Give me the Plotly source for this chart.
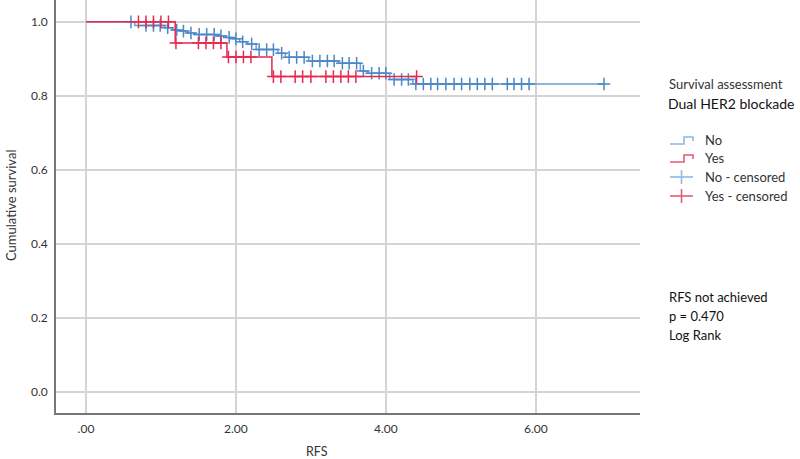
import numpy as np
import plotly.graph_objects as go

# Kaplan-Meier step data (time, survival after step)
no_step_t = [0.00, 0.65, 1.05, 1.15, 1.25, 1.35, 1.45, 1.75, 1.87, 1.96, 2.05, 2.15, 2.27,
             2.56, 2.66, 2.97, 3.37, 3.66, 3.76, 4.05, 4.36, 6.91]
no_step_s = [1.000, 0.990, 0.984, 0.978, 0.975, 0.970, 0.966, 0.962, 0.958, 0.954, 0.946, 0.940, 0.925,
             0.915, 0.904, 0.894, 0.888, 0.867, 0.861, 0.844, 0.832, 0.832]
no_cens_t = [0.60, 0.80, 0.90, 0.99, 1.09, 1.21, 1.30, 1.40, 1.51, 1.61, 1.71, 1.80, 1.91, 2.00,
             2.09, 2.21, 2.31, 2.41, 2.50, 2.61, 2.71, 2.81, 2.91, 3.02, 3.12, 3.22, 3.31, 3.42,
             3.51, 3.61, 3.70, 3.81, 3.91, 4.00, 4.11, 4.21, 4.30, 4.40, 4.50, 4.60, 4.69, 4.80,
             4.91, 5.01, 5.12, 5.22, 5.32, 5.42, 5.62, 5.71, 5.81, 5.91, 6.91]

yes_step_t = [0.00, 1.19, 1.88, 2.48, 4.41]
yes_step_s = [1.000, 0.943, 0.905, 0.852, 0.852]
yes_cens_t = [0.70, 0.80, 0.90, 1.00, 1.10, 1.20, 1.50, 1.60, 1.70, 1.80, 1.90, 2.00, 2.10, 2.20,
              2.50, 2.60, 2.79, 2.89, 3.00, 3.20, 3.30, 3.40, 3.50, 3.60, 4.41]

x_ticks = [0, 2, 4, 6]
x_tick_labels = [".00", "2.00", "4.00", "6.00"]
y_ticks = [0.0, 0.2, 0.4, 0.6, 0.8, 1.0]
y_tick_labels = ["0.0", "0.2", "0.4", "0.6", "0.8", "1.0"]

BLUE = "#6a9fd8"
BLUE_D = "#4a86c8"
RED = "#e8284f"
FONT = "Lato, Open Sans, sans-serif"

L, R, T, B = 56, 160, 0, 46
W, H = 800, 459
PW, PH = W - L - R, H - T - B


def surv_at(step_t, step_s, times):
    idx = np.searchsorted(np.array(step_t), np.array(times), side="right") - 1
    return [step_s[i] for i in idx]


def px(x):
    return (x - L) / PW


def py(y):
    return (H - B - y) / PH


fig = go.Figure()
for st, ss, ct, col, colm in [(no_step_t, no_step_s, no_cens_t, BLUE, BLUE_D),
                              (yes_step_t, yes_step_s, yes_cens_t, RED, RED)]:
    fig.add_trace(go.Scatter(x=st, y=ss, mode="lines", line=dict(color=col, width=1.5, shape="hv"),
                             showlegend=False, hoverinfo="skip"))
    fig.add_trace(go.Scatter(x=ct, y=surv_at(st, ss, ct), mode="markers",
                             marker=dict(symbol="cross-thin", size=9, line=dict(color=colm, width=1.5)),
                             showlegend=False, hoverinfo="skip"))

fig.update_layout(
    width=W, height=H,
    margin=dict(l=L, r=R, t=T, b=B),
    paper_bgcolor="white", plot_bgcolor="white",
    font=dict(family=FONT, size=12, color="#333"),
    xaxis=dict(range=[-0.4, 7.39], tickvals=x_ticks, ticktext=x_tick_labels,
               showgrid=True, gridcolor="#d4d4d4", gridwidth=1.5, zeroline=False,
               showline=True, linecolor="#777", linewidth=1.5, ticks="", ticklabelstandoff=4),
    yaxis=dict(range=[-0.057, 1.059], tickvals=y_ticks, ticktext=y_tick_labels,
               showgrid=True, gridcolor="#d4d4d4", gridwidth=1.5, zeroline=False,
               showline=True, linecolor="#777", linewidth=1.5, ticks="", ticklabelstandoff=4),
)

ann = []
ann.append(dict(text="RFS", x=px(316.7), y=py(451), xref="paper", yref="paper",
                showarrow=False, font=dict(size=12.5), xanchor="center", yanchor="middle"))
ann.append(dict(text="Cumulative survival", x=px(11), y=py(206), xref="paper", yref="paper",
                showarrow=False, font=dict(size=13), textangle=-90, xanchor="center", yanchor="middle"))
ann.append(dict(text="Survival assessment", x=px(667), y=py(84), xref="paper", yref="paper",
                showarrow=False, font=dict(size=13), xanchor="left", yanchor="middle"))
ann.append(dict(text="Dual HER2 blockade", x=px(666), y=py(103), xref="paper", yref="paper",
                showarrow=False, font=dict(size=14, color="#111"), xanchor="left", yanchor="middle"))
leg_labels = ["No", "Yes", "No - censored", "Yes - censored"]
leg_y = [140, 158, 177, 196]
for lab, yy in zip(leg_labels, leg_y):
    ann.append(dict(text=lab, x=px(703), y=py(yy), xref="paper", yref="paper",
                    showarrow=False, font=dict(size=13), xanchor="left", yanchor="middle"))
for i, txt in enumerate(["RFS not achieved", "p = 0.470", "Log Rank"]):
    ann.append(dict(text=txt, x=px(667), y=py(297 + 19 * i), xref="paper", yref="paper",
                    showarrow=False, font=dict(size=13, color="#111"), xanchor="left", yanchor="middle"))
fig.update_layout(annotations=ann)

shapes = []
LB = "#8fb8e3"
LR = "#ea5a78"
for col, yy in [(LB, 140), (LR, 158)]:
    path = (f"M {px(670)} {py(yy+4)} L {px(684)} {py(yy+4)} L {px(684)} {py(yy-3)} "
            f"L {px(693)} {py(yy-3)} L {px(693)} {py(yy+1)}")
    shapes.append(dict(type="path", path=path, xref="paper", yref="paper",
                       line=dict(color=col, width=1.6)))
for col, yy in [(LB, 177), (LR, 196)]:
    shapes.append(dict(type="line", x0=px(670), x1=px(693), y0=py(yy), y1=py(yy),
                       xref="paper", yref="paper", line=dict(color=col, width=1.6)))
    shapes.append(dict(type="line", x0=px(681.5), x1=px(681.5), y0=py(yy - 7), y1=py(yy + 7),
                       xref="paper", yref="paper", line=dict(color=col, width=1.6)))
fig.update_layout(shapes=shapes)

fig.write_html("out.html", config={"displayModeBar": False},
               post_script="document.body.style.margin='0px';")
